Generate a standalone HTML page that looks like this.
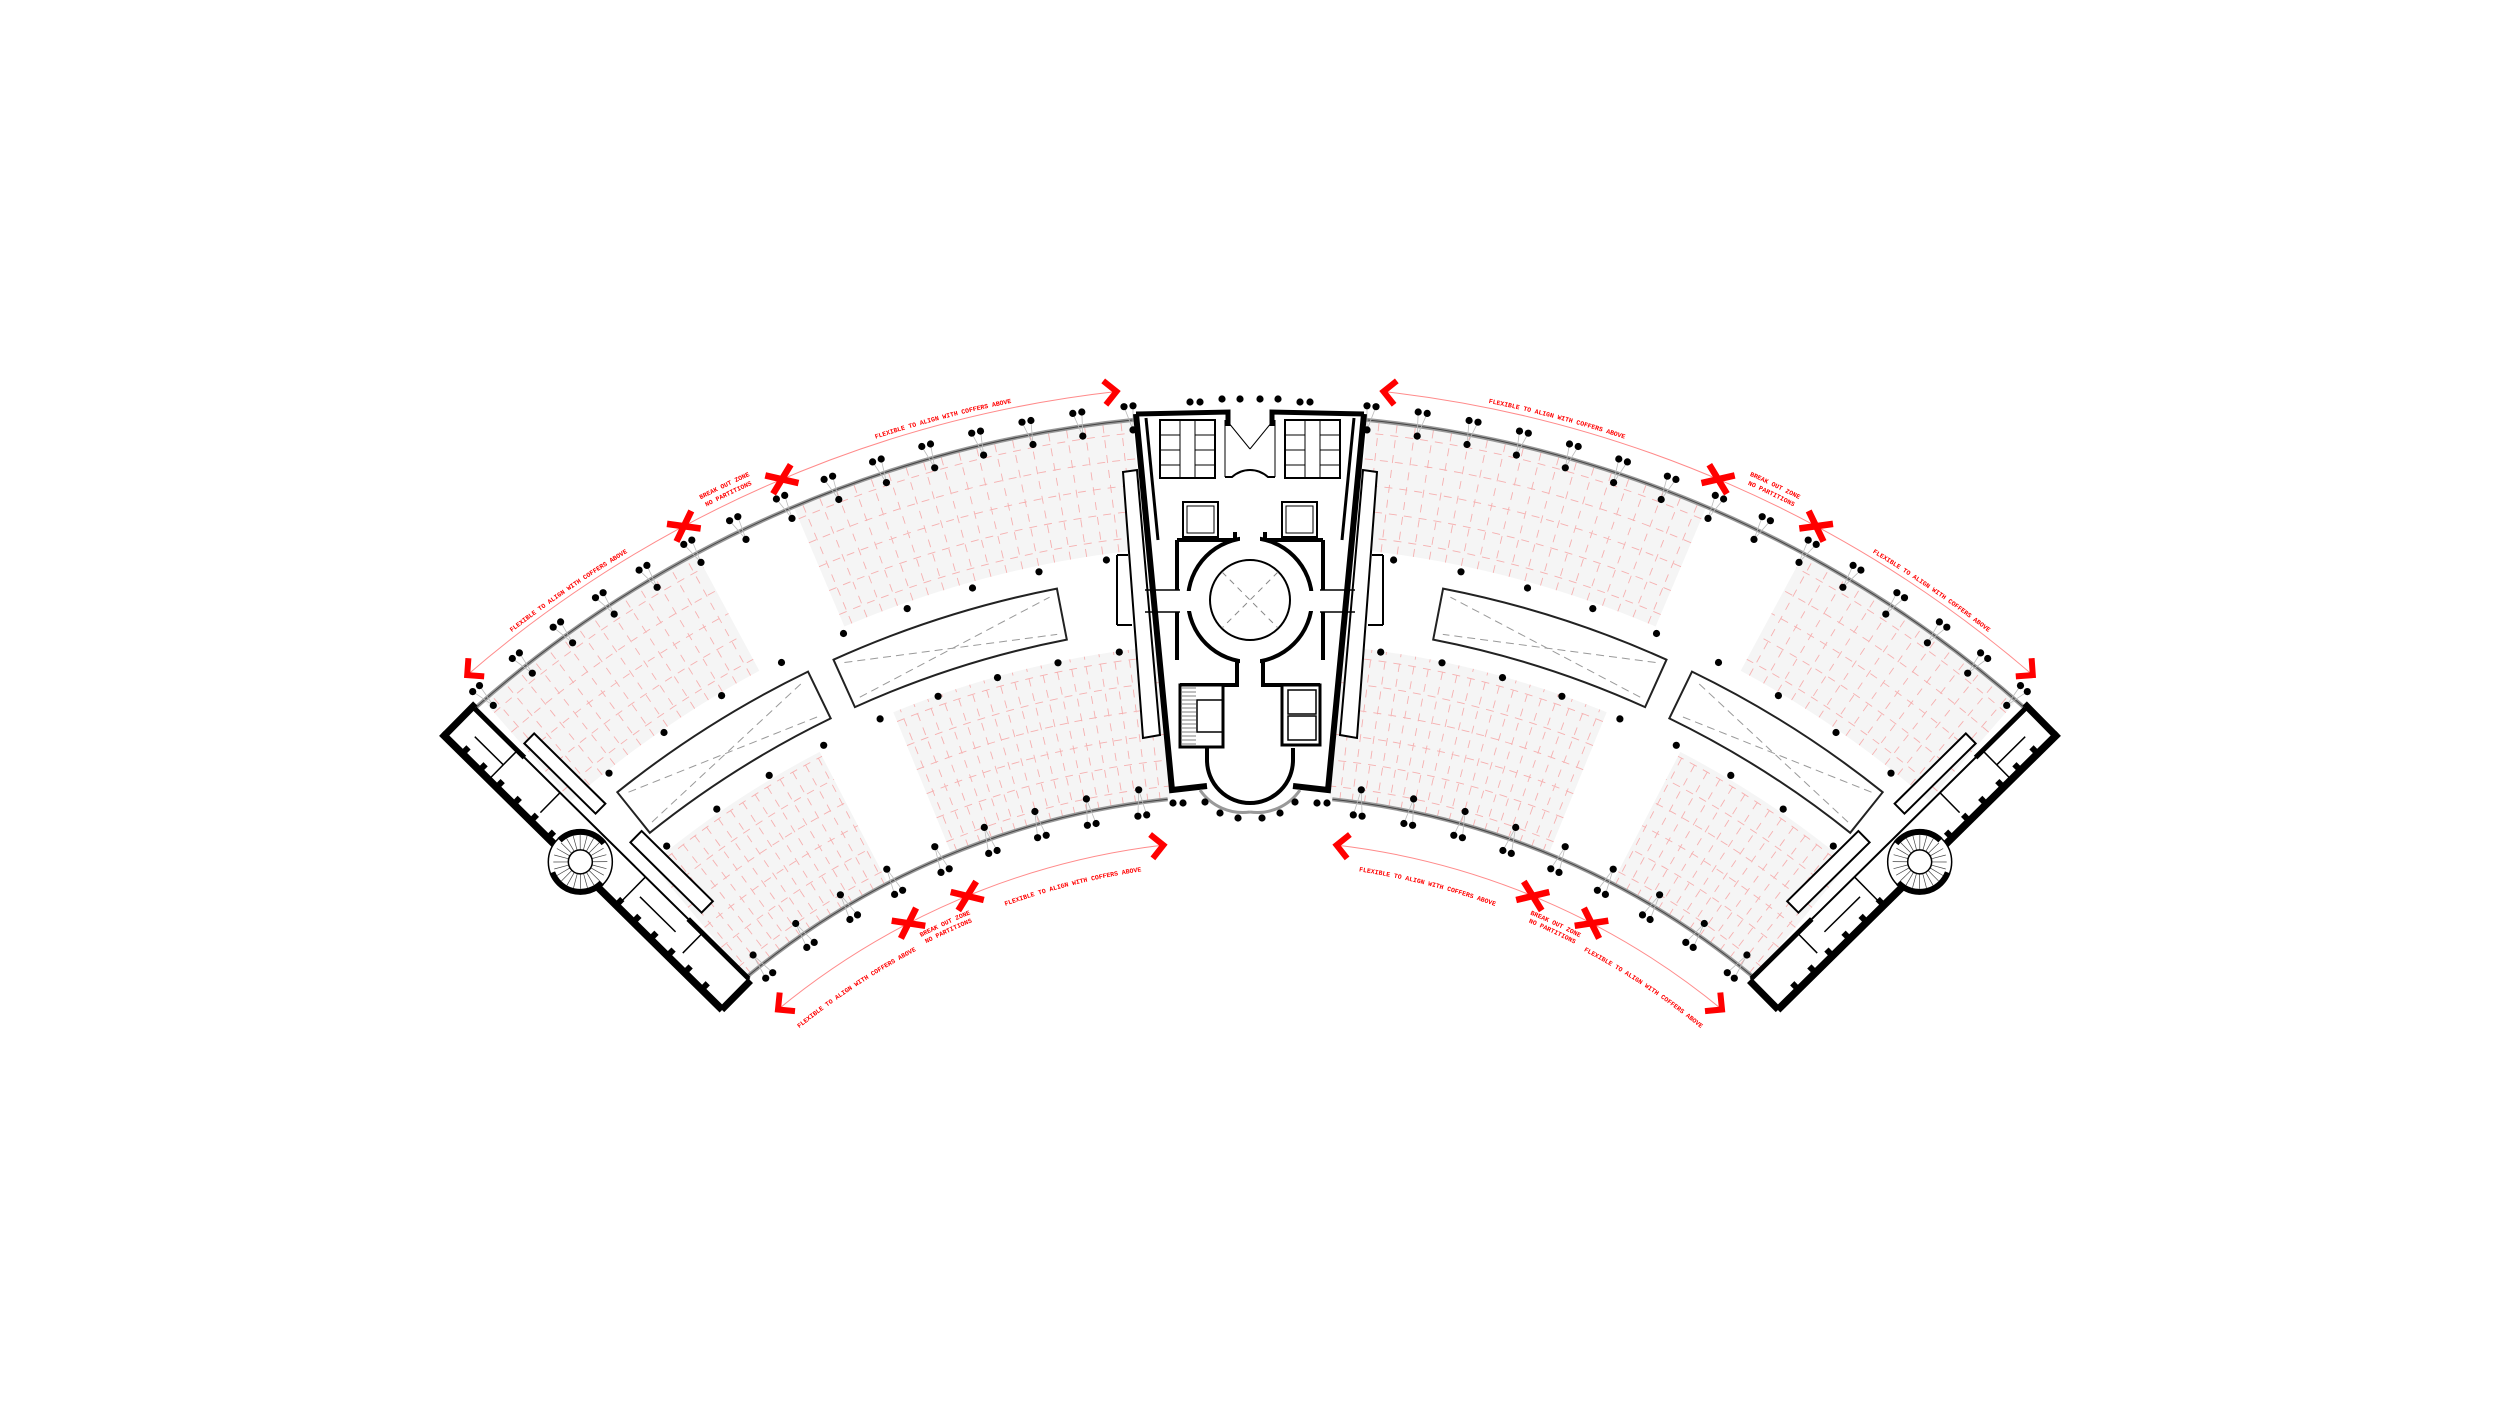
<!DOCTYPE html>
<html><head><meta charset="utf-8"><style>html,body{margin:0;padding:0;background:#fff}svg{display:block}</style></head>
<body>
<svg id="s" width="2500" height="1406" viewBox="0 0 2500 1406" xmlns="http://www.w3.org/2000/svg">
<rect width="2500" height="1406" fill="#fff"/>
<defs>
<path id="r1203" d="M47,1582 A1203,1203 0 0 1 2453,1582"/>
<path id="r1214" d="M36,1582 A1214,1214 0 0 1 2464,1582"/>
<path id="r1205" d="M45,1582 A1205,1205 0 0 1 2455,1582"/>
<path id="r714" d="M536,1582 A714,714 0 0 1 1964,1582"/>
<path id="r724" d="M526,1582 A724,724 0 0 1 1974,1582"/>
<path id="r716" d="M534,1582 A716,716 0 0 1 1966,1582"/>
<path id="r719" d="M531,1582 A719,719 0 0 1 1969,1582"/>
</defs>
<g id="L"></g>
<g id="R" transform="translate(2500,0) scale(-1,1)"></g>
<g id="C"></g>
<g font-family="'Liberation Mono', monospace" font-weight="bold" font-size="6.5" fill="#f00" text-anchor="middle">
<text><textPath href="#r1203" startOffset="1165">FLEXIBLE TO ALIGN WITH COFFERS ABOVE</textPath></text>
<text><textPath href="#r1203" startOffset="1579">FLEXIBLE TO ALIGN WITH COFFERS ABOVE</textPath></text>
<text><textPath href="#r1203" startOffset="2200">FLEXIBLE TO ALIGN WITH COFFERS ABOVE</textPath></text>
<text><textPath href="#r1203" startOffset="2614">FLEXIBLE TO ALIGN WITH COFFERS ABOVE</textPath></text>
<text><textPath href="#r1214" startOffset="1364">BREAK OUT ZONE</textPath></text>
<text><textPath href="#r1205" startOffset="1354">NO PARTITIONS</textPath></text>
<text><textPath href="#r1214" startOffset="2449">BREAK OUT ZONE</textPath></text>
<text><textPath href="#r1205" startOffset="2431">NO PARTITIONS</textPath></text>
<text><textPath href="#r714" startOffset="704">FLEXIBLE TO ALIGN WITH COFFERS ABOVE</textPath></text>
<text><textPath href="#r714" startOffset="1539">FLEXIBLE TO ALIGN WITH COFFERS ABOVE</textPath></text>
<text><textPath href="#r719" startOffset="950">FLEXIBLE TO ALIGN WITH COFFERS ABOVE</textPath></text>
<text><textPath href="#r719" startOffset="1309">FLEXIBLE TO ALIGN WITH COFFERS ABOVE</textPath></text>
<text><textPath href="#r724" startOffset="823">BREAK OUT ZONE</textPath></text>
<text><textPath href="#r716" startOffset="814">NO PARTITIONS</textPath></text>
<text><textPath href="#r724" startOffset="1452">BREAK OUT ZONE</textPath></text>
<text><textPath href="#r716" startOffset="1436">NO PARTITIONS</textPath></text>
</g>
</svg>
<script>
const cx=1250,cy=1582,D=Math.PI/180;
const P=(r,a)=>[cx+r*Math.sin(a*D),cy-r*Math.cos(a*D)];
const f=p=>p[0].toFixed(1)+','+p[1].toFixed(1);
const arc=(r,a1,a2)=>`M${f(P(r,a1))}A${r},${r} 0 0 1 ${f(P(r,a2))}`;
const sec=(r1,r2,a1,a2)=>`M${f(P(r2,a1))}A${r2},${r2} 0 0 1 ${f(P(r2,a2))}L${f(P(r1,a2))}A${r1},${r1} 0 0 0 ${f(P(r1,a1))}Z`;
let h='';
h+='<path d="M1136,414 L1250,412 L1250,802 L1172,790 Z" fill="#fff"/>';
const zones=[[1035,1166,-41,-28.3],[1038,1166,-23,-5.8],[787,935,-39.8,-27.4],[787,940,-22.3,-5.8]];
for(const z of zones){h+=`<path d="${sec(...z)}" fill="#f5f5f5"/>`;}
let g='';
for(const [r1,r2,a1,a2] of zones){
 for(let a=a1+0.45;a<a2;a+=0.9){g+=`M${f(P(r1,a))}L${f(P(r2,a))}`;}
 for(let r=r1+13;r<r2;r+=26){g+=arc(r,a1,a2);}
}
h+=`<path d="${g}" fill="none" stroke="#f5b0b0" stroke-width="0.9" stroke-dasharray="8 7"/>`;
for(const [a1,a2] of [[-38.7,-25.9],[-24.3,-11]]){
 h+=`<path d="${sec(960,1012,a1,a2)}" fill="#fff" stroke="#222" stroke-width="2"/>`;
 h+=`<path d="M${f(P(1005,a1+0.5))}L${f(P(967,a2-0.5))}M${f(P(967,a1+0.5))}L${f(P(1005,a2-0.5))}" stroke="#999" stroke-dasharray="8 5" fill="none"/>`;
}
h+=`<path d="${arc(1168,-41.5,-5.6)}" stroke="#999" stroke-width="4" fill="none"/><path d="${arc(1168,-41.5,-5.6)}" stroke="#444" stroke-width="1" fill="none"/>`;
h+=`<path d="${arc(787,-39.8,-6)}" stroke="#999" stroke-width="4" fill="none"/><path d="${arc(787,-39.8,-6)}" stroke="#444" stroke-width="1" fill="none"/>`;
let dots='',ln='';
const dot=p=>`<circle cx="${p[0].toFixed(1)}" cy="${p[1].toFixed(1)}" r="3.6"/>`;
for(let k=0;k<15;k++){const a=-5.9-2.5*k,o=0.22;
 dots+=dot(P(1182,a-o))+dot(P(1182,a+o))+dot(P(1158,a+0.1));
 ln+=`M${f(P(1158,a+0.1))}L${f(P(1182,a-o))}M${f(P(1158,a+0.1))}L${f(P(1182,a+o))}`;}
for(let k=0;k<9;k++){const a=-8-3.8*k;
 dots+=dot(P(1032,a))+dot(P(939,a))+dot(P(800,a))+dot(P(774,a-0.33))+dot(P(774,a+0.33));
 ln+=`M${f(P(800,a))}L${f(P(774,a-.33))}M${f(P(800,a))}L${f(P(774,a+.33))}`;}
for(const p of [[1190,402],[1200,402],[1222,399],[1240,399],[1173,803],[1183,803],[1205,802],[1220,813],[1238,818]]) dots+=dot(p);
h+=`<path d="${ln}" stroke="#bbb" stroke-width="0.8" fill="none"/>`;
const red='#f00';
h+=`<path d="${arc(1198,-40.8,-6.4)}" stroke="#ff8a8a" stroke-width="1" fill="none"/>`;
h+=`<path d="${arc(742,-39.5,-6.7)}" stroke="#ff8a8a" stroke-width="1" fill="none"/>`;
const rot=(v,d)=>[v[0]*Math.cos(d*D)-v[1]*Math.sin(d*D),v[0]*Math.sin(d*D)+v[1]*Math.cos(d*D)];
function chev(r,a,dir){const p=P(r,a),t=[Math.cos(a*D),Math.sin(a*D)],b=[-dir*t[0],-dir*t[1]],L=17;
 const u=rot(b,45),w=rot(b,-45);
 return `<path d="M${f([p[0]+L*u[0],p[1]+L*u[1]])}L${f(p)}L${f([p[0]+L*w[0],p[1]+L*w[1]])}" stroke="${red}" stroke-width="6" fill="none" stroke-miterlimit="10"/>`;}
function xm(r,a){const p=P(r,a);let s='';for(const d of [36,-36]){const th=(a+d)*D,L=17;
 s+=`M${f([p[0]-L*Math.cos(th),p[1]-L*Math.sin(th)])}L${f([p[0]+L*Math.cos(th),p[1]+L*Math.sin(th)])}`;}
 return `<path d="${s}" stroke="${red}" stroke-width="6.5"/>`;}
h+=chev(1198,-40.8,-1)+chev(1198,-6.4,1)+chev(742,-39.5,-1)+chev(742,-6.7,1);
h+=xm(1198,-28.2)+xm(1198,-23)+xm(742,-27.4)+xm(742,-22.4);
let w='<g transform="translate(476,707) rotate(44.6)">';
w+='<rect x="0" y="2" width="385" height="38" fill="#fff" stroke="#000" stroke-width="2"/>';
w+='<path d="M-6,43 L388,43" stroke="#000" stroke-width="7"/>';
w+='<path d="M-3,-2 L-3,43 M388,2 L388,43" stroke="#000" stroke-width="6"/>';
w+='<path d="M0,2 L70,2 M300,2 L385,2" stroke="#000" stroke-width="5"/>';
for(let x=20;x<380;x+=24) if(x<145||x>220) w+=`<rect x="${x}" y="34" width="6" height="6"/>`;
w+='<path d="M60,2 L60,40 M120,2 L120,30 M240,2 L240,40 M320,2 L320,30 M20,22 L60,22 M250,20 L300,20" stroke="#000" stroke-width="1.5" fill="none"/>';
w+='<rect x="60" y="-22" width="100" height="14" fill="#fff" stroke="#000" stroke-width="2"/>';
w+='<rect x="205" y="-28" width="100" height="16" fill="#fff" stroke="#000" stroke-width="2"/>';
const sx=183,sy=37;
w+=`<circle cx="${sx}" cy="${sy}" r="32" fill="#fff" stroke="#000" stroke-width="1.5"/>`;
w+=`<circle cx="${sx}" cy="${sy}" r="30" fill="none" stroke="#000" stroke-width="6" stroke-dasharray="60 35 50 43"/>`;
let sl='';for(let t=0;t<360;t+=15){const c=Math.cos(t*D),s=Math.sin(t*D);sl+=`M${(sx+12*c).toFixed(1)},${(sy+12*s).toFixed(1)}L${(sx+27*c).toFixed(1)},${(sy+27*s).toFixed(1)}`;}
w+=`<path d="${sl}" stroke="#444" stroke-width="0.7"/>`;
w+=`<circle cx="${sx}" cy="${sy}" r="12" fill="#fff" stroke="#000" stroke-width="1.5"/>`;
w+='</g>';
h+=w;
h+='<path d="M1136,414 L1228,412 L1228,426" stroke="#000" stroke-width="5" fill="none"/>';
h+='<path d="M1136,414 L1172,790 L1207,786" stroke="#000" stroke-width="6" fill="none"/>';
h+='<path d="M1146,418 L1158,540" stroke="#000" stroke-width="3" fill="none"/>';
h+='<path d="M1123,472 L1137,470 L1160,735 L1143,738 Z" fill="#fff" stroke="#000" stroke-width="2"/>';
h+='<path d="M1117,555 L1128,555 M1117,625 L1132,625 M1117,555 L1117,625" stroke="#000" stroke-width="2" fill="none"/>';
h+='<rect x="1160" y="420" width="55" height="58" fill="none" stroke="#000" stroke-width="2"/>';
h+='<path d="M1180,420 L1180,478 M1195,420 L1195,478 M1160,435 L1180,435 M1160,450 L1180,450 M1160,465 L1180,465 M1195,435 L1215,435 M1195,450 L1215,450 M1195,465 L1215,465" stroke="#000" stroke-width="1" fill="none"/>';
h+='<path d="M1225,420 L1225,477 M1228,422 L1250,449" stroke="#000" stroke-width="1" fill="none" />';
h+='<path d="M1225,477 L1232,477 Q1240,470 1250,470" stroke="#000" stroke-width="2" fill="none"/>';
h+='<rect x="1183" y="502" width="35" height="35" fill="none" stroke="#000" stroke-width="2"/><rect x="1187" y="506" width="27" height="27" fill="none" stroke="#000" stroke-width="1"/>';
h+='<path d="M1177,540 L1235,540 L1235,532 M1177,540 L1177,590 M1177,612 L1177,660 M1237,657 L1237,685 L1180,685 M1207,748 L1207,760" stroke="#000" stroke-width="4" fill="none"/>';
h+='<path d="M1145,590 L1180,590 M1145,612 L1180,612" stroke="#000" stroke-width="1.5" fill="none"/>';
h+='<path d="M1207,760 A43,43 0 0 0 1250,803" stroke="#000" stroke-width="4" fill="none"/>';
h+='<path d="M1200,790 A52,52 0 0 0 1250,812" stroke="#999" stroke-width="3" fill="none"/>';
h+='<g fill="#000">'+dots+'</g>';
document.getElementById('L').innerHTML=h;
document.getElementById('R').innerHTML=h;
let c='';
c+='<circle cx="1250" cy="600" r="62" fill="#fff" stroke="#000" stroke-width="4"/>';
c+='<rect x="1183" y="591" width="10" height="20" fill="#fff"/><rect x="1307" y="591" width="10" height="20" fill="#fff"/><rect x="1240" y="533" width="20" height="10" fill="#fff"/><rect x="1240" y="657" width="20" height="10" fill="#fff"/>';
c+='<circle cx="1250" cy="600" r="40" fill="#fff" stroke="#000" stroke-width="2"/>';
c+='<path d="M1222,572 L1278,628 M1278,572 L1222,628" stroke="#888" stroke-dasharray="6 5"/>';
c+='<rect x="1180" y="685" width="43" height="62" fill="#fff" stroke="#000" stroke-width="3"/><rect x="1197" y="700" width="26" height="32" fill="none" stroke="#000" stroke-width="1.5"/>';
let st='';for(let y=688;y<746;y+=4){st+=`M1182,${y}L1196,${y}`;}
c+=`<path d="${st}" stroke="#555" stroke-width="0.7"/>`;
c+='<rect x="1282" y="685" width="38" height="60" fill="#fff" stroke="#000" stroke-width="3"/><rect x="1288" y="690" width="28" height="24" fill="none" stroke="#000" stroke-width="1.5"/><rect x="1288" y="716" width="28" height="24" fill="none" stroke="#000" stroke-width="1.5"/>';
document.getElementById('C').innerHTML=c;
</script>
</body></html>
